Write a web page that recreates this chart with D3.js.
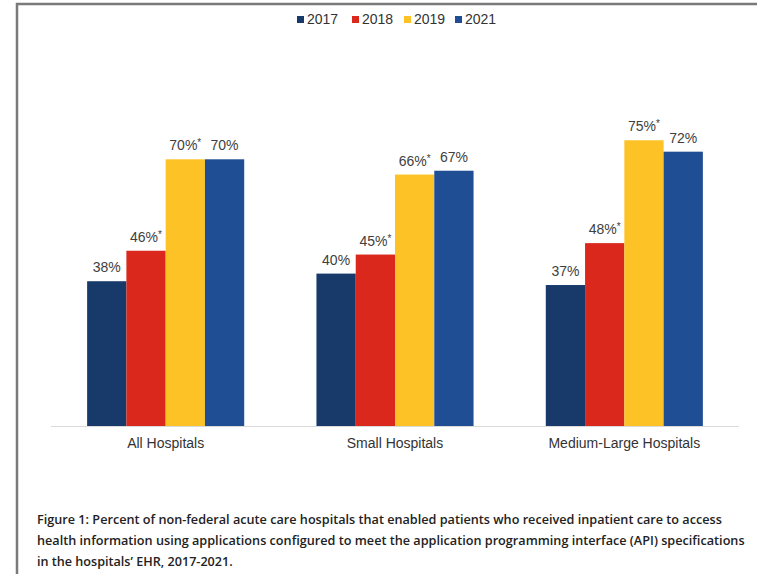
<!DOCTYPE html>
<html>
<head>
<meta charset="utf-8">
<script src="https://cdn.jsdelivr.net/npm/d3@7"></script>
<style>
  body { margin: 0; background: #fff; }
  svg { display: block; }
</style>
</head>
<body>
<svg id="chart" width="757" height="574"></svg>
<script>
// data
var categories = ["All Hospitals", "Small Hospitals", "Medium-Large Hospitals"];
var years = ["2017", "2018", "2019", "2021"];
var v2017 = [38, 40, 37];
var v2018 = [46, 45, 48];
var v2019 = [70, 66, 75];
var v2021 = [70, 67, 72];
// asterisk = significant change from prior year
var star2018 = [true, true, true];
var star2019 = [true, true, true];

var captionLines = [
  "Figure 1: Percent of non-federal acute care hospitals that enabled patients who received inpatient care to access",
  "health information using applications configured to meet the application programming interface (API) specifications",
  "in the hospitals\u2019 EHR, 2017-2021."
];

var series = [
  { year: "2017", values: v2017, stars: [false, false, false], color: "#173a6b" },
  { year: "2018", values: v2018, stars: star2018, color: "#da291c" },
  { year: "2019", values: v2019, stars: star2019, color: "#fdc326" },
  { year: "2021", values: v2021, stars: [false, false, false], color: "#1f4e94" }
];

var svg = d3.select("#chart");

// frame
svg.append("path")
  .attr("d", "M17,574 L17,4 L757,4")
  .attr("fill", "none")
  .attr("stroke", "#7a7a7a")
  .attr("stroke-width", 2.5);

var x0 = d3.scaleBand()
  .domain(categories)
  .range([51, 739])
  .paddingInner(0.315)
  .paddingOuter(0.1575);

var x1 = d3.scaleBand()
  .domain(years)
  .range([0, x0.bandwidth()]);

var y = d3.scaleLinear()
  .domain([0, 100])
  .range([426, 45]);

// baseline
svg.append("line")
  .attr("x1", 51).attr("x2", 739)
  .attr("y1", y(0) + 0.5).attr("y2", y(0) + 0.5)
  .attr("stroke", "#d9d9d9")
  .attr("stroke-width", 1);

var groups = svg.selectAll(".series")
  .data(series)
  .enter().append("g")
  .attr("class", "series");

groups.selectAll("rect")
  .data(function(s) {
    return s.values.map(function(v, i) { return { cat: categories[i], value: v, year: s.year, color: s.color }; });
  })
  .enter().append("rect")
  .attr("x", function(d) { return x0(d.cat) + x1(d.year); })
  .attr("y", function(d) { return y(d.value); })
  .attr("width", x1.bandwidth())
  .attr("height", function(d) { return y(0) - y(d.value); })
  .attr("fill", function(d) { return d.color; });

var labels = groups.selectAll("text")
  .data(function(s) {
    return s.values.map(function(v, i) { return { cat: categories[i], value: v, year: s.year, star: s.stars[i] }; });
  })
  .enter().append("text")
  .attr("x", function(d) { return x0(d.cat) + x1(d.year) + x1.bandwidth() / 2; })
  .attr("y", function(d) { return y(d.value) - 9; })
  .attr("text-anchor", "middle")
  .attr("font-family", "Liberation Sans, Arial, sans-serif")
  .attr("font-size", 14)
  .attr("fill", "#404040");

labels.append("tspan").text(function(d) { return d.value + "%"; });
labels.filter(function(d) { return d.star; })
  .append("tspan")
  .attr("font-size", 10)
  .attr("dy", -4)
  .text("*");

// category labels
svg.selectAll(".cat")
  .data(categories)
  .enter().append("text")
  .attr("class", "cat")
  .attr("x", function(d) { return x0(d) + x0.bandwidth() / 2; })
  .attr("y", 448)
  .attr("text-anchor", "middle")
  .attr("font-family", "Liberation Sans, Arial, sans-serif")
  .attr("font-size", 14)
  .attr("fill", "#333")
  .text(function(d) { return d; });

// legend
var legendX = [297, 352, 404, 455];
var legend = svg.selectAll(".legend")
  .data(series)
  .enter().append("g")
  .attr("class", "legend")
  .attr("transform", function(d, i) { return "translate(" + legendX[i] + ",0)"; });

legend.append("rect")
  .attr("x", 0).attr("y", 16)
  .attr("width", 7).attr("height", 7)
  .attr("fill", function(d) { return d.color; });

legend.append("text")
  .attr("x", 10).attr("y", 24)
  .attr("font-family", "Liberation Sans, Arial, sans-serif")
  .attr("font-size", 14)
  .attr("fill", "#333")
  .text(function(d) { return d.year; });

// caption - squeeze each line horizontally to the width it has in the figure
var capWidths = [685, 708, 196];
svg.selectAll(".caption")
  .data(captionLines)
  .enter().append("text")
  .attr("class", "caption")
  .attr("x", 0)
  .attr("y", 0)
  .attr("font-family", "Open Sans, Noto Sans, sans-serif")
  .attr("font-weight", 600)
  .attr("font-size", 13)
  .attr("fill", "#222")
  .text(function(d) { return d; })
  .attr("transform", function(d, i) {
    var k = capWidths[i] / this.getComputedTextLength();
    return "translate(37," + (524 + i * 21) + ") scale(" + k + ",1)";
  });
</script>
</body>
</html>
